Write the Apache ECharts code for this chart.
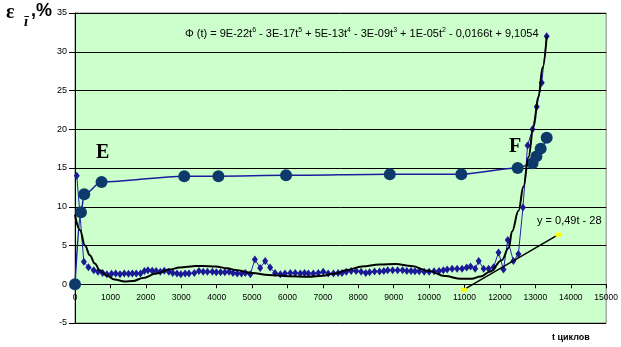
<!DOCTYPE html>
<html>
<head>
<meta charset="utf-8">
<script src="https://cdn.jsdelivr.net/npm/echarts@6/dist/echarts.min.js"></script>
<style>html,body{margin:0;padding:0;background:#fff;}#c{width:621px;height:347px;}</style>
</head>
<body>
<div id="c"></div>
<script>
// x ticks / y ticks
const xTicks = [0,1000,2000,3000,4000,5000,6000,7000,8000,9000,10000,11000,12000,13000,14000,15000];
const yTicks = [-5,0,5,10,15,20,25,30,35];

// Large-dot series (E ... F)
const eT = [0,168,260,750,3085,4050,5960,8890,10910,12500,12920,13030,13150,13320];
const eV = [0,9.3,11.6,13.2,13.95,13.95,14.05,14.2,14.2,15.0,15.6,16.5,17.5,18.9];

// Small diamond series
const dT = [50,250,380,530,650,780,900,1030,1150,1270,1390,1510,1620,1730,1850,1960,2060,2180,2290,2410,2520,2650,2760,2880,2990,3110,3220,3370,3500,3620,3740,3880,3990,4110,4230,4350,4460,4580,4700,4810,4950,5080,5230,5370,5510,5650,5800,5930,6080,6220,6360,6480,6590,6730,6870,7010,7150,7300,7430,7540,7660,7800,7940,8080,8210,8320,8460,8600,8720,8830,8970,9110,9250,9370,9490,9600,9720,9860,10000,10140,10280,10400,10510,10650,10790,10930,11060,11170,11300,11400,11540,11680,11820,11960,12100,12220,12380,12520,12650,12780,12920,13040,13180,13320];
const dV = [14,2.9,2.2,1.8,1.6,1.45,1.3,1.35,1.4,1.3,1.4,1.35,1.4,1.4,1.4,1.7,1.8,1.75,1.7,1.6,1.75,1.6,1.45,1.4,1.3,1.4,1.4,1.45,1.7,1.6,1.6,1.6,1.55,1.55,1.55,1.6,1.45,1.4,1.4,1.45,1.3,3.2,2.1,3.0,2.15,1.45,1.3,1.4,1.45,1.45,1.4,1.45,1.4,1.4,1.45,1.6,1.4,1.38,1.45,1.45,1.6,1.7,1.7,1.6,1.45,1.55,1.65,1.65,1.7,1.8,1.8,1.8,1.8,1.72,1.72,1.68,1.68,1.6,1.6,1.68,1.72,1.8,1.9,2.0,2.0,2.0,2.15,2.3,2.0,3.0,2.0,2.0,2.2,4.1,1.9,5.7,3.0,3.9,9.9,17.9,20.0,22.9,26.0,32.0];

// Polynomial trend curve
const pT = [0,140,280,420,560,700,890,1120,1400,1640,1920,2290,2660,2950,3130,3400,3600,3970,4300,4530,5000,5470,6030,6590,7000,7300,7700,8100,8600,9050,9500,10000,10450,10900,11200,11450,11730,12050,12250,12340,12525,12665,12805,12946,13086,13207,13320];
const pV = [9.0,7.0,5.0,3.75,2.67,1.8,1.16,0.6,0.35,0.43,0.8,1.38,1.89,2.15,2.24,2.35,2.35,2.3,2.05,1.85,1.46,1.2,1.03,0.97,1.1,1.35,1.85,2.3,2.55,2.6,2.35,1.7,1.05,0.7,0.7,1.0,1.65,3.1,4.7,6.8,9.5,12.6,16.4,20.3,24.2,28.0,32.0];

// Linear trend
const lT = [10980,13650];
const lV = [-0.7,6.4];

const zip = (a,b) => a.map((v,i)=>[v,b[i]]);

const chart = echarts.init(document.getElementById('c'), null, {renderer:'canvas'});
const F = 'Liberation Sans, Arial, sans-serif';
const S = 'Liberation Serif, Times New Roman, serif';
const gridTop = 13, gridBottom = 24, H = 347;
const plotH = H - gridTop - gridBottom;
const yMin = yTicks[0], yMax = yTicks[yTicks.length-1];
const zeroOffset = -plotH * (0 - yMin) / (yMax - yMin);

chart.setOption({
  animation:false,
  backgroundColor:'#ffffff',
  grid:{left:75, right:11, top:gridTop, bottom:gridBottom, show:true, backgroundColor:'#ccffcc', borderColor:'#808080', borderWidth:1},
  xAxis:{type:'value', min:xTicks[0], max:xTicks[xTicks.length-1], interval:1000,
    position:'bottom', offset:zeroOffset,
    axisLine:{onZero:false, lineStyle:{color:'#000', width:1}},
    axisTick:{show:true, length:4, lineStyle:{color:'#000'}},
    axisLabel:{fontFamily:F, fontSize:8.5, color:'#000', margin:9, showMaxLabel:true, formatter:v=>String(v)},
    splitLine:{show:false}},
  yAxis:{type:'value', min:yMin, max:yMax, interval:5,
    axisLine:{show:true, lineStyle:{color:'#000'}},
    axisTick:{show:true, length:6, lineStyle:{color:'#000'}},
    axisLabel:{fontFamily:F, fontSize:9, color:'#000', margin:8},
    splitLine:{show:true, lineStyle:{color:'#000', width:1}}},
  title:[
    {text:'ε', left:6, top:3, padding:0, textStyle:{fontFamily:S, fontSize:20, fontWeight:'bold', color:'#000'}},
    {text:'ī', left:24, top:15, padding:0, textStyle:{fontFamily:S, fontSize:15, fontWeight:'bold', fontStyle:'italic', color:'#000'}},
    {text:',%', left:31, top:2, padding:0, textStyle:{fontFamily:F, fontSize:18, fontWeight:'bold', color:'#000'}},
    {text:'Φ (t) = 9E-22t{s|6} - 3E-17t{s|5} + 5E-13t{s|4} - 3E-09t{s|3} + 1E-05t{s|2} - 0,0166t + 9,1054', left:185, top:27, padding:0,
     textStyle:{fontFamily:F, fontSize:11, color:'#000', fontWeight:'normal', lineHeight:14,
       rich:{s:{fontFamily:F, fontSize:7, verticalAlign:'top', lineHeight:14}}}},
    {text:'y = 0,49t - 28', left:537, top:215, padding:0, textStyle:{fontFamily:F, fontSize:11, color:'#000', fontWeight:'normal'}},
    {text:'E', left:96, top:143, padding:0, textStyle:{fontFamily:S, fontSize:20, fontWeight:'bold', color:'#000'}},
    {text:'F', left:509, top:137, padding:0, textStyle:{fontFamily:S, fontSize:20, fontWeight:'bold', color:'#000'}},
    {text:'t циклов', left:552, top:333, padding:0, textStyle:{fontFamily:F, fontSize:9, fontWeight:'bold', color:'#000'}}
  ],
  series:[
    {type:'line', data:zip(dT,dV), symbol:'diamond', symbolSize:[6,8], showAllSymbol:true,
     lineStyle:{color:'#2222aa', width:1}, itemStyle:{color:'#1a1a96'}, z:2},
    {type:'line', data:zip(eT,eV), symbol:'circle', symbolSize:12, smooth:0.3, smoothMonotone:'x',
     lineStyle:{color:'#1c1ca0', width:1.5}, itemStyle:{color:'#0d3a6a'}, z:3},
    {type:'line', data:zip(pT,pV), symbol:'none', smooth:0.4, smoothMonotone:'x',
     lineStyle:{color:'#000', width:2}, z:4},
    {type:'line', data:zip(lT,lV), symbol:'rect', symbolSize:[6,4],
     lineStyle:{color:'#000', width:1.5}, itemStyle:{color:'#ffff00'}, z:5}
  ]
});
</script>
</body>
</html>
